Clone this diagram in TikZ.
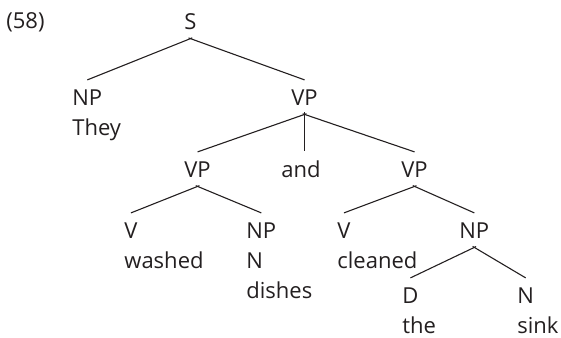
\documentclass[tikz,border=0pt]{standalone}
\usepackage{fontspec}
\setmainfont{Open Sans}
\usetikzlibrary{positioning}
\definecolor{Ink}{HTML}{231F20}
\tikzset{
  catnode/.style={inner xsep=0pt,inner ysep=4.5pt,anchor=base west,text=Ink},
  wordnode/.style={inner sep=0pt,text=Ink},
  branch/.style={draw=Ink,line width=0.55pt,shorten <=-1pt}
}

\begin{document}
\begin{tikzpicture}[x=0.5pt,y=-0.5pt,font=\fontsize{11}{13}\selectfont]
\useasboundingbox (0,0) rectangle (561,337);
\node[catnode] (ex) at (6,28) {(58)};
% categories
\node[catnode] (s) at (184,29) {S};
\node[catnode] (np1) at (72,105) {NP};
\node[catnode] (vp1) at (291,105) {VP};
\node[catnode] (vp2) at (184,177) {VP};
\node[catnode] (and) at (281,177) {and};
\node[catnode] (vp3) at (401,177) {VP};
\node[catnode] (v1) at (124,238) {V};
\node[catnode] (np2) at (246,238) {NP};
\node[catnode] (v2) at (337,238) {V};
\node[catnode] (np3) at (459,238) {NP};
\node[catnode] (d) at (402,303) {D};
\node[catnode] (n2) at (517,303) {N};
% words
\node[wordnode,below=15pt of np1.base west,anchor=base west] (they) {They};
\node[wordnode,below=15pt of v1.base west,anchor=base west] (washed) {washed};
\node[wordnode,below=15pt of np2.base west,anchor=base west] (n1) {N};
\node[wordnode,below=15pt of n1.base west,anchor=base west] (dishes) {dishes};
\node[wordnode,below=15pt of v2.base west,anchor=base west] (cleaned) {cleaned};
\node[wordnode,below=15pt of d.base west,anchor=base west] (the) {the};
\node[wordnode,below=15pt of n2.base west,anchor=base west] (sink) {sink};
% branches
\draw[branch] (s.south) -- (np1.north);
\draw[branch] (s.south) -- (vp1.north);
\draw[branch] (vp1.south) -- (vp2.north);
\draw[branch] (vp1.south) -- (vp1.south |- and.north);
\draw[branch] (vp1.south) -- (vp3.north);
\draw[branch] (vp2.south) -- (v1.north);
\draw[branch] (vp2.south) -- (np2.north);
\draw[branch] (vp3.south) -- (v2.north);
\draw[branch] (vp3.south) -- (np3.north);
\draw[branch] (np3.south) -- (d.north);
\draw[branch] (np3.south) -- (n2.north);
\end{tikzpicture}
\end{document}
